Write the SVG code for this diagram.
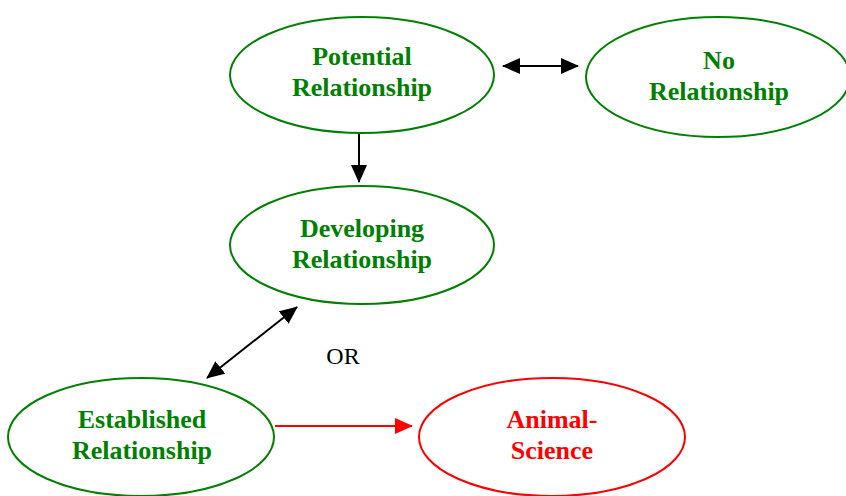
<svg xmlns="http://www.w3.org/2000/svg" width="846" height="496" viewBox="0 0 846 496">
<style>
.node ellipse{fill:#fff;stroke:#008000;stroke-width:2}
.node text{font-family:"Liberation Serif","Times New Roman",serif;font-weight:bold;font-size:26px;fill:#008000;text-anchor:middle}
.node.red ellipse{stroke:#ff0000}
.node.red text{fill:#ff0000}
.edge{stroke:#000;stroke-width:2;fill:none}
.edge.red{stroke:#ff0000}
.lbl{font-family:"Liberation Serif","Times New Roman",serif;font-size:24px;fill:#000;text-anchor:middle}
</style>
<defs>
<marker id="ah" markerUnits="userSpaceOnUse" markerWidth="18" markerHeight="16" viewBox="0 0 18 16" refX="17" refY="8" orient="auto-start-reverse">
<path d="M0,0 L18,8 L0,16 Z" fill="#000"/>
</marker>
<marker id="ahr" markerUnits="userSpaceOnUse" markerWidth="18" markerHeight="16" viewBox="0 0 18 16" refX="17" refY="8" orient="auto">
<path d="M0,0 L18,8 L0,16 Z" fill="#ff0000"/>
</marker>
</defs>
<rect width="846" height="496" fill="#fff"/>
<g id="connectors">
<line class="edge" x1="503" y1="66" x2="578" y2="66" marker-start="url(#ah)" marker-end="url(#ah)"/>
<line class="edge" x1="359" y1="133" x2="359" y2="182" marker-end="url(#ah)"/>
<line class="edge" x1="297" y1="307" x2="207" y2="378" marker-start="url(#ah)" marker-end="url(#ah)"/>
<line class="edge red" x1="275" y1="426" x2="412" y2="426" marker-end="url(#ahr)"/>
<text class="lbl" x="343" y="364">OR</text>
</g>
<g id="potential" class="node">
<ellipse cx="362" cy="75" rx="132" ry="58"/>
<text x="362" y="65">Potential</text>
<text x="362" y="96">Relationship</text>
</g>
<g id="norel" class="node">
<ellipse cx="718" cy="77" rx="132" ry="60"/>
<text x="719" y="69">No</text>
<text x="719" y="100">Relationship</text>
</g>
<g id="developing" class="node">
<ellipse cx="362" cy="245" rx="132" ry="59"/>
<text x="362" y="237">Developing</text>
<text x="362" y="268">Relationship</text>
</g>
<g id="established" class="node">
<ellipse cx="141" cy="437" rx="133" ry="59"/>
<text x="142" y="428">Established</text>
<text x="142" y="459">Relationship</text>
</g>
<g id="animal" class="node red">
<ellipse cx="552" cy="437" rx="133" ry="59"/>
<text x="552" y="428">Animal-</text>
<text x="552" y="459">Science</text>
</g>
</svg>
